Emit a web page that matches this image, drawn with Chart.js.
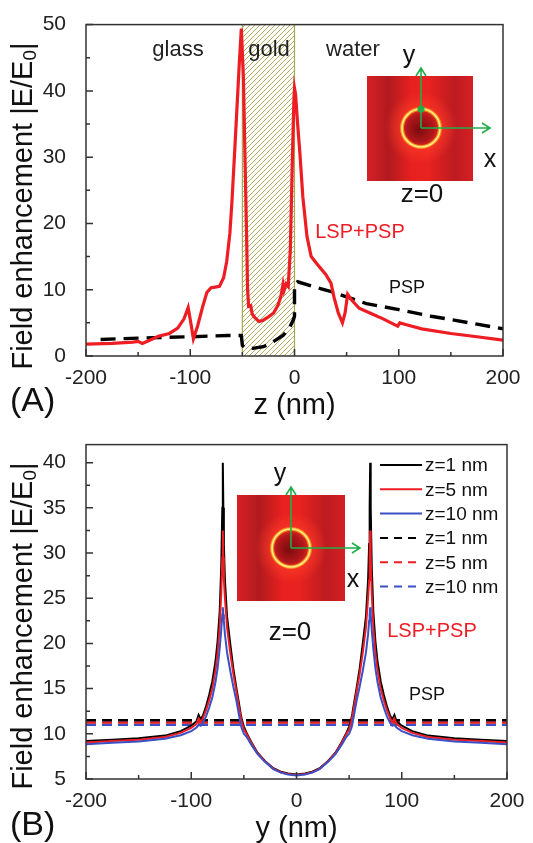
<!DOCTYPE html>
<html>
<head>
<meta charset="utf-8">
<script src="https://cdn.jsdelivr.net/npm/chart.js@4.4.1/dist/chart.umd.min.js"></script>
<style>
  body { margin: 0; background: #fff; width: 533px; height: 843px; overflow: hidden; position: relative; }
  #wrapA { position: absolute; left: 0; top: 0; width: 533px; height: 420px; }
  #wrapB { position: absolute; left: 0; top: 420px; width: 533px; height: 423px; }
</style>
</head>
<body>
<div id="wrapA"><canvas id="chartA" width="533" height="420"></canvas></div>
<div id="wrapB"><canvas id="chartB" width="533" height="423"></canvas></div>
<script>
// ---- Panel A: field enhancement along z ----
const zPos = [-200,-175,-155,-150,-146,-140,-130,-120,-112,-106,-102,-100,-97,-93,-88,-84,-80,-76,-72,-68,
  -65,-62,-60,-57,-55,-53,-51,-49,-47.5,-46,-45,-44,-42,-40.5,-38,-34,-30,-25,-20,-16,
  -13,-11,-10,-8,-6,-4,-2,-0.5,0,1,3,5,8,12,16,22,30,35,38,42,
  46,48.5,51,55,62,75,85,95,99,101,110,122,150,175,200];
const lspPspA = [1.8,1.9,2.1,2.2,1.9,2.3,3.0,3.4,4.2,5.6,7.3,5.5,2.6,4.5,7.5,9.6,10.3,10.4,10.5,11.8,
  14.3,18.5,23.3,32,38,44,49.4,42,30,18.5,10,7.5,7.6,6.3,5.8,5.2,5.4,5.9,6.5,7.6,
  9.0,10.8,9.9,10.9,10.5,16,30,39,40.4,39.5,35,31,24,18,15,13.8,12.3,11,8.8,6.5,
  5.0,6.5,9.3,8.4,7.2,6.3,5.6,4.8,4.5,5.0,4.6,4.1,3.4,2.9,2.4];
const zPsp = [-186,-150,-100,-64,-51,-50,-48,-40,-30,-23,-11,-5,-1,0,0,3,20,37.5,69,100,131,150,175,200];
const pspA = [2.5,2.7,2.9,3.1,3.1,1.6,1.3,1.15,1.4,1.9,3.1,4.2,5.5,6,10.8,11.2,10.4,9.6,7.9,7.0,6.0,5.5,4.8,4.1];
const goldBand = [-50, 0];

const xTicks = [-200, -100, 0, 100, 200];
const xMinor = [-150, -50, 50, 150];
const yTicksA = [0, 10, 20, 30, 40, 50];
const yMinorA = [5, 15, 25, 35, 45];

// ---- Panel B: field enhancement along y ----
const yPos = [-200,-175,-150,-125,-110,-100,-95,-93,-91,-89,-86,-83,-80,-77,-75,-73,-71.5,-70.5,-70,-69.5,
  -69,-68,-66,-63,-60,-57,-55,-53,-52,-50,-47,-43,-37,-30,-22,-15,-8,0,
  8,15,22,30,37,43,47,50,52,53,55,57,60,63,66,68,69,69.5,70,70.5,
  71.5,73,75,77,80,83,86,89,91,93,95,100,110,125,150,175,200];
const z1nm = [9.2,9.35,9.5,9.8,10.3,10.9,11.4,12.1,11.6,12.0,13.0,14.3,15.8,18.0,20.2,23.5,28.5,35,40,35,
  31,27,23,20,17.2,15,13.6,12.2,11.6,10.8,10.0,9.1,7.9,7.0,6.2,5.8,5.6,5.5,
  5.6,5.8,6.2,7.0,7.9,9.1,10.0,10.8,11.6,12.2,13.6,15,17.2,20,23,27,31,35,40,35,
  28.5,23.5,20.2,18.0,15.8,14.3,13.0,12.0,11.6,12.1,11.4,10.9,10.3,9.8,9.5,9.35,9.2];
const z5nm = [9.05,9.2,9.35,9.65,10.1,10.65,11.1,11.7,11.3,11.7,12.6,13.7,15.0,17.0,18.9,21.8,25.5,29.5,32.5,29.5,
  27,25,21.8,19,16.6,14.6,13.2,11.9,11.3,10.5,9.9,9.0,7.85,6.95,6.15,5.75,5.55,5.45,
  5.55,5.75,6.15,6.95,7.85,9.0,9.9,10.5,11.3,11.9,13.2,14.6,16.6,19,21.8,25,27,29.5,32.5,29.5,
  25.5,21.8,18.9,17.0,15.0,13.7,12.6,11.7,11.3,11.7,11.1,10.65,10.1,9.65,9.35,9.2,9.05];
const z10nm = [8.85,9.0,9.15,9.45,9.85,10.3,10.7,11.0,10.9,11.2,11.9,12.9,14.0,15.7,17.2,19.4,21.5,23.2,24,23.2,
  22.5,21,19,17,15.2,13.6,12.3,11.0,10.6,10.0,9.6,8.8,7.75,6.9,6.1,5.7,5.5,5.4,
  5.5,5.7,6.1,6.9,7.75,8.8,9.6,10.0,10.6,11.0,12.3,13.6,15.2,17,19,21,22.5,23.2,24,23.2,
  21.5,19.4,17.2,15.7,14.0,12.9,11.9,11.2,10.9,11.0,10.7,10.3,9.85,9.45,9.15,9.0,8.85];
const pspRange = [-200, 200];
const psp1nm = [11.5, 11.5];
const psp5nm = [11.25, 11.25];
const psp10nm = [11.0, 11.0];

const yTicksB = [5, 10, 15, 20, 25, 30, 35, 40];
const yMinorB = [7.5, 12.5, 17.5, 22.5, 27.5, 32.5, 37.5];

const FONT = 'Arial, "Liberation Sans", sans-serif';
const RED = '#ee1d24';
const BLUE = '#3b50c4';

function pts(xs, ys) {
  return xs.map((x, i) => ({ x: x, y: ys[i] }));
}

function txt(ctx, s, x, y, size, color, align) {
  ctx.font = size + 'px ' + FONT;
  ctx.fillStyle = color;
  ctx.textAlign = align || 'center';
  ctx.textBaseline = 'alphabetic';
  ctx.fillText(s, x, y);
}

// vertical axis title with subscript 0
function yTitle(ctx, cx, cy) {
  ctx.save();
  ctx.translate(cx, cy);
  ctx.rotate(-Math.PI / 2);
  ctx.textBaseline = 'middle';
  ctx.textAlign = 'left';
  ctx.fillStyle = '#111';
  const a = 'Field enhancement |E/E', b = '|';
  ctx.font = '19px ' + FONT;
  const w0 = ctx.measureText('0').width;
  ctx.font = '29px ' + FONT;
  const wa = ctx.measureText(a).width, wb = ctx.measureText(b).width;
  let x = -(wa + w0 + wb) / 2;
  ctx.fillText(a, x, 0);
  x += wa;
  ctx.font = '19px ' + FONT;
  ctx.fillText('0', x, 7);
  x += w0;
  ctx.font = '29px ' + FONT;
  ctx.fillText(b, x, 0);
  ctx.restore();
}

// small field map picture with the gold ring and green axes
function drawInset(ctx, x0, y0, w, h, cx, cy, r, tipY, tipX, dot) {
  ctx.save();
  const g = ctx.createLinearGradient(x0, 0, x0 + w, 0);
  g.addColorStop(0, '#d62126');
  g.addColorStop(0.2, '#b11a1f');
  g.addColorStop(0.42, '#e6211f');
  g.addColorStop(0.58, '#e8221f');
  g.addColorStop(0.82, '#bd1b21');
  g.addColorStop(1, '#d52024');
  ctx.fillStyle = g;
  ctx.fillRect(x0, y0, w, h);
  // glow around the ring
  const halo = ctx.createRadialGradient(cx, cy, r * 0.9, cx, cy, r * 1.9);
  halo.addColorStop(0, 'rgba(255,60,40,0.75)');
  halo.addColorStop(1, 'rgba(255,60,40,0)');
  ctx.fillStyle = halo;
  ctx.fillRect(x0, y0, w, h);
  // dark core
  const core = ctx.createRadialGradient(cx - 3, cy + 2, 0, cx, cy, r);
  core.addColorStop(0, '#7a0c0e');
  core.addColorStop(0.7, '#b0161a');
  core.addColorStop(1, '#e02a20');
  ctx.fillStyle = core;
  ctx.beginPath();
  ctx.arc(cx, cy, r, 0, Math.PI * 2);
  ctx.fill();
  ctx.strokeStyle = 'rgba(255,150,40,0.85)';
  ctx.lineWidth = 4;
  ctx.stroke();
  ctx.strokeStyle = '#fff27a';
  ctx.lineWidth = 1.6;
  ctx.stroke();
  // axes
  ctx.strokeStyle = '#1fae4a';
  ctx.lineWidth = 1.6;
  ctx.beginPath();
  ctx.moveTo(cx, cy); ctx.lineTo(cx, tipY);
  ctx.moveTo(cx - 5, tipY + 8); ctx.lineTo(cx, tipY); ctx.lineTo(cx + 5, tipY + 8);
  ctx.moveTo(cx, cy); ctx.lineTo(tipX, cy);
  ctx.moveTo(tipX - 8, cy - 5); ctx.lineTo(tipX, cy); ctx.lineTo(tipX - 8, cy + 5);
  ctx.stroke();
  if (dot) {
    ctx.fillStyle = '#1fae4a';
    ctx.beginPath();
    ctx.arc(cx, cy - r, 3.5, 0, Math.PI * 2);
    ctx.fill();
  }
  ctx.restore();
}

// box round the plot area and inward tick marks
function frameTicks(xMaj, xMin, yMaj, yMin) {
  return {
    id: 'frameTicks',
    afterDatasetsDraw(chart) {
      const { ctx, chartArea: a, scales: { x, y } } = chart;
      ctx.save();
      ctx.strokeStyle = '#333';
      ctx.lineWidth = 1.5;
      ctx.strokeRect(a.left, a.top, a.right - a.left, a.bottom - a.top);
      ctx.beginPath();
      xMaj.forEach(v => { const p = x.getPixelForValue(v); ctx.moveTo(p, a.bottom); ctx.lineTo(p, a.bottom - 7); });
      xMin.forEach(v => { const p = x.getPixelForValue(v); ctx.moveTo(p, a.bottom); ctx.lineTo(p, a.bottom - 4); });
      yMaj.forEach(v => { const p = y.getPixelForValue(v); ctx.moveTo(a.left, p); ctx.lineTo(a.left + 7, p); });
      yMin.forEach(v => { const p = y.getPixelForValue(v); ctx.moveTo(a.left, p); ctx.lineTo(a.left + 4, p); });
      ctx.stroke();
      ctx.restore();
    }
  };
}

function makeScales(yMin, yMax, yTicks, xTitle) {
  return {
    x: {
      type: 'linear', min: -200, max: 200,
      afterBuildTicks: s => { s.ticks = xTicks.map(v => ({ value: v })); },
      afterFit: s => { s.height = 64; },
      grid: { display: false },
      border: { display: false },
      ticks: { font: { family: FONT, size: 21 }, color: '#222', padding: 2, maxRotation: 0, autoSkip: false },
      title: { display: true, text: xTitle, color: '#111', padding: 0, font: { family: FONT, size: 29, lineHeight: 1 } }
    },
    y: {
      type: 'linear', min: yMin, max: yMax,
      afterBuildTicks: s => { s.ticks = yTicks.map(v => ({ value: v })); },
      afterFit: s => { s.width = 86; },
      grid: { display: false },
      border: { display: false },
      ticks: { font: { family: FONT, size: 21 }, color: '#222', padding: 12, autoSkip: false }
    }
  };
}

// gold layer, hatched
const goldLayer = {
  id: 'goldLayer',
  beforeDatasetsDraw(chart) {
    const { ctx, chartArea: a, scales: { x } } = chart;
    const x0 = x.getPixelForValue(goldBand[0]);
    const x1 = x.getPixelForValue(goldBand[1]);
    const pc = document.createElement('canvas');
    pc.width = 5; pc.height = 5;
    const p = pc.getContext('2d');
    p.strokeStyle = '#afae62';
    p.lineWidth = 1;
    p.beginPath();
    p.moveTo(0, 5); p.lineTo(5, 0);
    p.moveTo(-1, 1); p.lineTo(1, -1);
    p.moveTo(4, 6); p.lineTo(6, 4);
    p.stroke();
    ctx.save();
    ctx.fillStyle = ctx.createPattern(pc, 'repeat');
    ctx.fillRect(x0, a.top, x1 - x0, a.bottom - a.top);
    ctx.strokeStyle = '#a8a650';
    ctx.lineWidth = 1.2;
    ctx.beginPath();
    ctx.moveTo(x0, a.top); ctx.lineTo(x0, a.bottom);
    ctx.moveTo(x1, a.top); ctx.lineTo(x1, a.bottom);
    ctx.stroke();
    ctx.restore();
  }
};

const notesA = {
  id: 'notesA',
  afterDraw(chart) {
    const ctx = chart.ctx;
    txt(ctx, 'glass', 178, 56, 22, '#222');
    txt(ctx, 'gold', 269, 56, 22, '#222');
    txt(ctx, 'water', 353, 56, 22, '#222');
    drawInset(ctx, 367, 76, 106, 105, 421, 128, 19, 68, 490, true);
    txt(ctx, 'y', 409, 63, 25, '#111');
    txt(ctx, 'x', 490, 167, 25, '#111');
    txt(ctx, 'z=0', 422, 202, 26, '#111');
    txt(ctx, 'LSP+PSP', 360, 238, 20, RED);
    txt(ctx, 'PSP', 407, 293, 18, '#111');
    yTitle(ctx, 24, 206);
    txt(ctx, '(A)', 10, 411, 34, '#111', 'left');
  }
};

const notesB = {
  id: 'notesB',
  afterDraw(chart) {
    const ctx = chart.ctx;
    drawInset(ctx, 237, 75, 108, 106, 291, 128, 19, 67, 360, false);
    txt(ctx, 'y', 280, 61, 25, '#111');
    txt(ctx, 'x', 353, 167, 25, '#111');
    txt(ctx, 'z=0', 290, 220, 26, '#111');
    txt(ctx, 'LSP+PSP', 432, 217, 20, RED);
    txt(ctx, 'PSP', 427, 280, 18, '#111');
    yTitle(ctx, 24, 206);
    txt(ctx, '(B)', 10, 415, 34, '#111', 'left');
    // legend drawn from the datasets
    const rows = [45, 69.3, 93.6, 118, 142.3, 166.6];
    ctx.save();
    chart.data.datasets.forEach((ds, i) => {
      const yy = rows[i];
      ctx.strokeStyle = ds.borderColor;
      ctx.lineWidth = 2;
      ctx.setLineDash(ds.borderDash ? [8, 6] : []);
      ctx.beginPath();
      ctx.moveTo(380, yy); ctx.lineTo(422, yy);
      ctx.stroke();
      ctx.setLineDash([]);
      ctx.font = '19px ' + FONT;
      ctx.fillStyle = '#111';
      ctx.textAlign = 'left';
      ctx.textBaseline = 'middle';
      ctx.fillText(ds.label, 425, yy + 1);
    });
    ctx.restore();
  }
};

const common = {
  responsive: false,
  animation: false,
  devicePixelRatio: 1,
  plugins: { legend: { display: false }, tooltip: { enabled: false } },
  elements: { point: { radius: 0 }, line: { tension: 0 } }
};

new Chart(document.getElementById('chartA'), {
  type: 'line',
  data: {
    datasets: [
      { label: 'LSP+PSP', data: pts(zPos, lspPspA), borderColor: RED, borderWidth: 3.2 },
      { label: 'PSP', data: pts(zPsp, pspA), borderColor: '#000', borderWidth: 3.4, borderDash: [15, 8] }
    ]
  },
  options: Object.assign({}, common, {
    layout: { padding: { left: 0, right: 30, top: 21, bottom: 0 } },
    scales: makeScales(0, 50, yTicksA, 'z (nm)')
  }),
  plugins: [goldLayer, frameTicks(xTicks, xMinor, yTicksA, yMinorA), notesA]
});

new Chart(document.getElementById('chartB'), {
  type: 'line',
  data: {
    datasets: [
      { label: 'z=1 nm', data: pts(yPos, z1nm), borderColor: '#000', borderWidth: 2, order: 2 },
      { label: 'z=5 nm', data: pts(yPos, z5nm), borderColor: RED, borderWidth: 2, order: 1 },
      { label: 'z=10 nm', data: pts(yPos, z10nm), borderColor: BLUE, borderWidth: 2, order: 0 },
      { label: 'z=1 nm', data: pts(pspRange, psp1nm), borderColor: '#000', borderWidth: 2.5, borderDash: [10, 6], order: 3 },
      { label: 'z=5 nm', data: pts(pspRange, psp5nm), borderColor: RED, borderWidth: 2.5, borderDash: [10, 6], order: 3 },
      { label: 'z=10 nm', data: pts(pspRange, psp10nm), borderColor: BLUE, borderWidth: 2.5, borderDash: [10, 6], order: 3 }
    ]
  },
  options: Object.assign({}, common, {
    layout: { padding: { left: 0, right: 26, top: 22, bottom: 0 } },
    scales: makeScales(5, 42, yTicksB, 'y (nm)')
  }),
  plugins: [frameTicks(xTicks, xMinor, yTicksB, yMinorB), notesB]
});
</script>
</body>
</html>
